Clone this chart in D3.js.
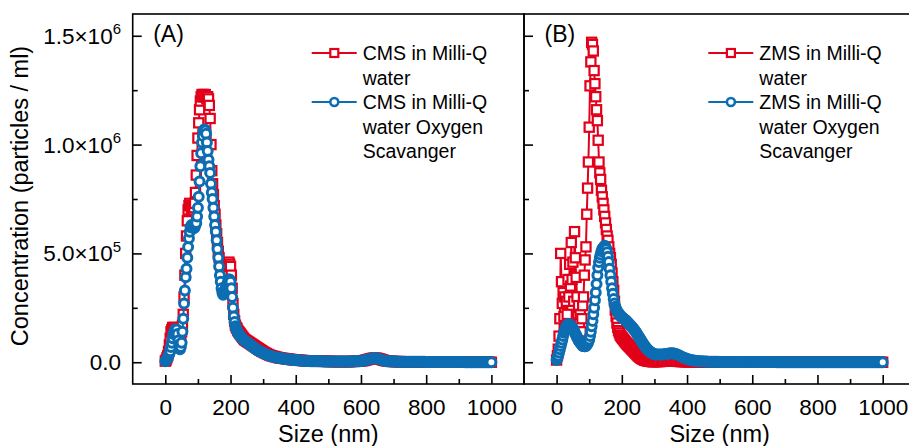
<!DOCTYPE html>
<html>
<head>
<meta charset="utf-8">
<script src="https://cdn.jsdelivr.net/npm/d3@7"></script>
<style>
  html, body { margin: 0; padding: 0; background: #fff; }
  svg { display: block; font-family: "Liberation Sans", Arial, Helvetica, sans-serif; }
</style>
</head>
<body>
<svg id="chart" width="909" height="446"></svg>
<script>
// Particle size bins (nm): 2.5 nm steps up to 300 nm, 5 nm steps from 300 to 1000 nm
const sizes = [...d3.range(0, 300, 2.5), ...d3.range(300, 1000.001, 5)];

// Concentrations, in units of 1e4 particles / ml
const cmsWater = [
  0.5, 1, 2, 3, 5, 8, 11, 14, 15, 16,
  15, 16, 15, 14, 15, 13, 11, 12, 10, 12,
  14, 17, 22, 30, 40, 50, 58, 65, 70, 72,
  73, 72, 71, 70, 70, 71, 73, 78, 86, 95,
  103, 110, 116, 120, 122, 123, 122, 123, 122, 123,
  122, 121, 122, 121, 118, 112, 100, 88, 82, 77,
  72, 68, 63, 59, 55, 51, 48, 45, 42, 40,
  38, 37, 37, 38, 40, 42, 44, 45, 46, 45,
  44, 40, 34, 27, 22, 19, 17, 16, 15.5, 14.5,
  14, 13.5, 13, 12.5, 12, 11.5, 11, 10.5, 10.2, 10,
  9.7, 9.5, 9.2, 9, 8.7, 8.5, 8.2, 8, 7.7, 7.5,
  7.2, 7, 6.7, 6.5, 6.2, 6, 5.7, 5.5, 5.2, 5,
  4.8, 4.4, 4.0, 3.6, 3.3, 3.0, 2.8, 2.6, 2.4, 2.2,
  2.0, 1.9, 1.8, 1.7, 1.6, 1.5, 1.4, 1.3, 1.2, 1.1,
  1.0, 1.0, 0.9, 0.9, 0.8, 0.8, 0.7, 0.7, 0.7, 0.6,
  0.6, 0.6, 0.5, 0.5, 0.5, 0.5, 0.4, 0.4, 0.4, 0.4,
  0.4, 0.4, 0.3, 0.3, 0.3, 0.3, 0.3, 0.3, 0.3, 0.3,
  0.3, 0.3, 0.3, 0.3, 0.3, 0.4, 0.4, 0.4, 0.5, 0.5,
  0.6, 0.7, 0.8, 1.0, 1.2, 1.4, 1.6, 1.8, 1.9, 1.9,
  1.8, 1.6, 1.4, 1.1, 0.9, 0.7, 0.6, 0.5, 0.4, 0.4,
  0.3, 0.3, 0.3, 0.3, 0.3, 0.2, 0.2, 0.2, 0.2, 0.2,
  0.2, 0.2, 0.2, 0.2, 0.2, 0.2, 0.2, 0.2, 0.2, 0.2,
  0.2, 0.2, 0.1, 0.1, 0.1, 0.1, 0.1, 0.1, 0.1, 0.1,
  0.1, 0.1, 0.1, 0.1, 0.1, 0.1, 0.1, 0.1, 0.1, 0.1,
  0.1, 0.1, 0.1, 0.1, 0.1, 0.1, 0, 0, 0, 0,
  0, 0, 0, 0, 0, 0, 0, 0, 0, 0,
  0
];

const cmsScavenger = [
  0.5, 1, 1.5, 2, 3, 4, 5, 7, 9, 11,
  13, 14, 15, 14, 15, 13, 10, 8, 6, 7,
  9, 14, 20, 27, 33, 39, 43, 48, 53, 57,
  60, 62, 63, 62.5, 62, 61.5, 62, 63, 64, 67,
  71, 76, 83, 90, 96, 101, 104, 106.5, 107, 106.5,
  105, 101, 97, 93, 90, 87, 82, 78, 75, 71,
  67, 63, 60, 56, 52, 48, 44, 40, 37, 34,
  32, 31, 32, 33, 34, 35, 36, 37, 38, 38,
  37, 34, 30, 25, 21, 18.5, 16.5, 15.5, 14.5, 13.5,
  13, 12.5, 12, 11.5, 11, 10.7, 10.4, 10.1, 9.8, 9.5,
  9.2, 9, 8.7, 8.4, 8.1, 7.8, 7.5, 7.2, 6.9, 6.7,
  6.4, 6.1, 5.8, 5.6, 5.4, 5.2, 5, 4.8, 4.6, 4.4,
  4.2, 3.9, 3.6, 3.3, 3.0, 2.8, 2.6, 2.4, 2.2, 2.0,
  1.9, 1.8, 1.7, 1.6, 1.5, 1.4, 1.3, 1.2, 1.1, 1.0,
  0.9, 0.9, 0.8, 0.8, 0.7, 0.7, 0.6, 0.6, 0.6, 0.5,
  0.5, 0.5, 0.5, 0.4, 0.4, 0.4, 0.4, 0.3, 0.3, 0.3,
  0.3, 0.3, 0.3, 0.3, 0.3, 0.3, 0.3, 0.3, 0.3, 0.3,
  0.3, 0.3, 0.3, 0.3, 0.3, 0.3, 0.4, 0.4, 0.4, 0.5,
  0.6, 0.7, 0.8, 1.0, 1.2, 1.4, 1.6, 1.7, 1.8, 1.8,
  1.7, 1.5, 1.3, 1.0, 0.8, 0.6, 0.5, 0.4, 0.4, 0.3,
  0.3, 0.3, 0.3, 0.2, 0.2, 0.2, 0.2, 0.2, 0.2, 0.2,
  0.2, 0.2, 0.2, 0.2, 0.2, 0.2, 0.2, 0.2, 0.2, 0.2,
  0.1, 0.1, 0.1, 0.1, 0.1, 0.1, 0.1, 0.1, 0.1, 0.1,
  0.1, 0.1, 0.1, 0.1, 0.1, 0.1, 0.1, 0.1, 0.1, 0.1,
  0.1, 0.1, 0.1, 0.1, 0, 0, 0, 0, 0, 0,
  0, 0, 0, 0, 0, 0, 0, 0, 0, 0,
  0
];

const zmsWater = [
  1, 3, 6, 12, 20, 50, 37, 27, 32, 21,
  30, 16, 28, 22, 38, 30, 45, 35, 55, 38,
  46, 28, 60, 48, 39, 30, 21, 26, 18, 22,
  14, 20, 26, 30, 40, 47, 53, 68, 80, 92,
  108, 127, 138, 147, 146, 143, 134, 128, 122, 116,
  111, 102, 92, 87, 84, 79, 76, 73, 70, 67,
  64, 61, 58, 56, 53, 50, 48, 45, 41, 37,
  33, 28, 24, 21, 18, 16, 14.5, 13.5, 12.5, 12,
  11.5, 11, 10.5, 10, 9.5, 9, 8.6, 8.2, 7.8, 7.4,
  7, 6.6, 6.2, 5.8, 5.4, 5, 4.6, 4.2, 3.8, 3.4,
  3, 2.7, 2.4, 2.1, 1.8, 1.6, 1.4, 1.2, 1, 0.9,
  0.8, 0.7, 0.6, 0.5, 0.5, 0.4, 0.4, 0.3, 0.3, 0.3,
  0.3, 0.3, 0.3, 0.3, 0.4, 0.4, 0.5, 0.5, 0.6, 0.6,
  0.6, 0.6, 0.5, 0.5, 0.4, 0.4, 0.3, 0.3, 0.3, 0.2,
  0.2, 0.2, 0.2, 0.2, 0.2, 0.2, 0.2, 0.2, 0.2, 0.2,
  0.1, 0.1, 0.1, 0.1, 0.1, 0.1, 0.1, 0.1, 0.1, 0.1,
  0.1, 0.1, 0.1, 0.1, 0.1, 0.1, 0.1, 0.1, 0.1, 0.1,
  0.1, 0.1, 0.1, 0.1, 0.1, 0.1, 0.1, 0.1, 0.1, 0.1,
  0, 0, 0, 0, 0, 0, 0, 0, 0, 0,
  0, 0, 0, 0, 0, 0, 0, 0, 0, 0,
  0, 0, 0, 0, 0, 0, 0, 0, 0, 0,
  0, 0, 0, 0, 0, 0, 0, 0, 0, 0,
  0, 0, 0, 0, 0, 0, 0, 0, 0, 0,
  0, 0, 0, 0, 0, 0, 0, 0, 0, 0,
  0, 0, 0, 0, 0, 0, 0, 0, 0, 0,
  0, 0, 0, 0, 0, 0, 0, 0, 0, 0,
  0
];

const zmsScavenger = [
  1, 2, 3, 4.5, 6, 7.5, 9, 10.5, 12, 13.5,
  14.5, 15.5, 16.5, 17, 17.5, 17.5, 17.5, 17, 16.5, 16,
  15.5, 15, 14, 13, 12.5, 11.5, 11, 10, 9.5, 9,
  8.5, 8, 7.5, 7.5, 7.3, 7.3, 7.5, 8, 8.5, 9.5,
  10.5, 12, 14, 16.5, 19, 22, 25, 28.5, 32, 36,
  40, 43.5, 46, 48, 49.5, 51, 52, 52.5, 53, 53.5,
  53, 52, 50.5, 48.5, 46, 43, 40, 37, 34, 31.5,
  29, 27, 25.5, 24.5, 23.5, 23, 22.5, 22, 21.5, 21,
  20.7, 20.4, 20.1, 19.8, 19.5, 19.2, 18.8, 18.4, 18, 17.6,
  17.2, 16.8, 16.4, 16, 15.5, 15, 14.5, 14, 13.4, 12.8,
  12.2, 11.6, 11, 10.4, 9.8, 9.2, 8.6, 8, 7.5, 7,
  6.5, 6.1, 5.7, 5.3, 5, 4.7, 4.4, 4.2, 4, 3.8,
  3.7, 3.6, 3.5, 3.5, 3.5, 3.6, 3.7, 3.8, 3.9, 4.0,
  4.1, 4.1, 4.0, 3.8, 3.5, 3.2, 2.8, 2.4, 2.1, 1.8,
  1.5, 1.3, 1.1, 0.9, 0.8, 0.7, 0.6, 0.5, 0.4, 0.4,
  0.3, 0.3, 0.3, 0.2, 0.2, 0.2, 0.2, 0.2, 0.2, 0.2,
  0.1, 0.1, 0.1, 0.1, 0.1, 0.1, 0.1, 0.1, 0.1, 0.1,
  0.1, 0.1, 0.1, 0.1, 0.1, 0.1, 0.1, 0.1, 0.1, 0.1,
  0.1, 0.1, 0.1, 0.1, 0.1, 0.1, 0.1, 0.1, 0.1, 0.1,
  0.1, 0.1, 0.1, 0.1, 0.1, 0, 0, 0, 0, 0,
  0, 0, 0, 0, 0, 0, 0, 0, 0, 0,
  0, 0, 0, 0, 0, 0, 0, 0, 0, 0,
  0, 0, 0, 0, 0, 0, 0, 0, 0, 0,
  0, 0, 0, 0, 0, 0, 0, 0, 0, 0,
  0, 0, 0, 0, 0, 0, 0, 0, 0, 0,
  0, 0, 0, 0, 0, 0, 0, 0, 0, 0,
  0
];
const UNIT = 1e4;

// Axis ticks
const xMajorTicks = [0, 200, 400, 600, 800, 1000];
const xMinorTicks = [100, 300, 500, 700, 900];
const yMajorTicks = [0, 5e5, 1e6, 1.5e6];
const yMinorTicks = [2.5e5, 7.5e5, 1.25e6];

const RED = "#e2001a";
const BLUE = "#0d6db2";

const panels = [
  {
    tag: "(A)", left: 132.7, right: 524, legendX: 311.7,
    series: [
      { lines: ["CMS in Milli-Q", "water"], values: cmsWater, color: RED, symbol: "square" },
      { lines: ["CMS in Milli-Q", "water Oxygen", "Scavanger"], values: cmsScavenger, color: BLUE, symbol: "circle" }
    ]
  },
  {
    tag: "(B)", left: 524, right: 915.3, legendX: 708.3,
    series: [
      { lines: ["ZMS in Milli-Q", "water"], values: zmsWater, color: RED, symbol: "square" },
      { lines: ["ZMS in Milli-Q", "water Oxygen", "Scavanger"], values: zmsScavenger, color: BLUE, symbol: "circle" }
    ]
  }
];

const svg = d3.select("#chart");
const TOP = 14, BOTTOM = 384;
const FRAME_W = 1.6;

const y = d3.scaleLinear().domain([-1e5, 1.6e6]).range([BOTTOM, TOP]);

function drawSymbol(g, kind, color, cx, cy, small) {
  if (kind === "square") {
    const h = small ? 4 : 4.6;
    g.append("rect")
      .attr("x", cx - h).attr("y", cy - h)
      .attr("width", 2 * h).attr("height", 2 * h)
      .attr("fill", "#fff").attr("stroke", color).attr("stroke-width", 2.2);
  } else {
    g.append("circle")
      .attr("cx", cx).attr("cy", cy).attr("r", small ? 4 : 4.5)
      .attr("fill", "#fff").attr("stroke", color).attr("stroke-width", small ? 2.6 : 3);
  }
}

function styleAxis(g) {
  g.select(".domain").remove();
  g.attr("font-family", null).attr("font-size", null);
  g.selectAll(".tick line").attr("stroke", "#000").attr("stroke-width", FRAME_W);
}

panels.forEach((p, pi) => {
  const x = d3.scaleLinear().domain([-100, 1100]).range([p.left, p.right]);
  const g = svg.append("g");

  // clip region for the data marks
  const clipId = "clip" + pi;
  svg.append("clipPath").attr("id", clipId)
    .append("rect")
    .attr("x", p.left).attr("y", TOP)
    .attr("width", p.right - p.left).attr("height", BOTTOM - TOP);

  const marks = g.append("g").attr("clip-path", `url(#${clipId})`);
  const line = d3.line()
    .x(d => x(d[0]))
    .y(d => y(d[1] * UNIT));

  p.series.forEach(s => {
    const pts = sizes.map((sz, i) => [sz, s.values[i]]);
    marks.append("path")
      .datum(pts)
      .attr("d", line)
      .attr("fill", "none")
      .attr("stroke", s.color)
      .attr("stroke-width", 2)
      .attr("stroke-linejoin", "round");
    const sym = marks.append("g");
    pts.forEach(d => drawSymbol(sym, s.symbol, s.color, x(d[0]), y(d[1] * UNIT), false));
  });

  // x axis ticks (inward) and labels
  const xMajor = g.append("g")
    .attr("transform", `translate(0,${BOTTOM})`)
    .call(d3.axisBottom(x).tickValues(xMajorTicks).tickSize(-9).tickPadding(15).tickFormat(d3.format("d")));
  styleAxis(xMajor);
  xMajor.selectAll(".tick text").attr("font-size", 22.5).attr("fill", "#000");

  const xMinor = g.append("g")
    .attr("transform", `translate(0,${BOTTOM})`)
    .call(d3.axisBottom(x).tickValues(xMinorTicks).tickSize(-5).tickFormat(""));
  styleAxis(xMinor);

  // y axis ticks (inward)
  const yMajor = g.append("g")
    .attr("transform", `translate(${p.left},0)`)
    .call(d3.axisLeft(y).tickValues(yMajorTicks).tickSize(-9).tickFormat(""));
  styleAxis(yMajor);
  const yMinor = g.append("g")
    .attr("transform", `translate(${p.left},0)`)
    .call(d3.axisLeft(y).tickValues(yMinorTicks).tickSize(-5).tickFormat(""));
  styleAxis(yMinor);

  // frame
  g.append("rect")
    .attr("x", p.left).attr("y", TOP)
    .attr("width", p.right - p.left).attr("height", BOTTOM - TOP)
    .attr("fill", "none").attr("stroke", "#000").attr("stroke-width", FRAME_W);

  // x axis title
  g.append("text")
    .attr("x", (p.left + p.right) / 2).attr("y", 441.5)
    .attr("text-anchor", "middle").attr("font-size", 23.5)
    .text("Size (nm)");

  // panel tag
  g.append("text")
    .attr("x", p.left + 20.5).attr("y", 41.7)
    .attr("font-size", 23)
    .text(p.tag);

  // legend
  const baselines = [60, 84.5, 109, 133.5, 158];
  let row = 0;
  p.series.forEach(s => {
    const cy = baselines[row] - 7;
    g.append("line")
      .attr("x1", p.legendX).attr("x2", p.legendX + 45)
      .attr("y1", cy).attr("y2", cy)
      .attr("stroke", s.color).attr("stroke-width", 2);
    drawSymbol(g, s.symbol, s.color, p.legendX + 22.6, cy, true);
    s.lines.forEach(t => {
      g.append("text")
        .attr("x", p.legendX + 51).attr("y", baselines[row])
        .attr("font-size", 19.5)
        .text(t);
      row++;
    });
  });

  // y tick labels only on the left panel
  if (pi === 0) {
    const lab = g.append("g");
    yMajorTicks.forEach(v => {
      const t = lab.append("text")
        .attr("x", 121).attr("y", y(v) + 8)
        .attr("text-anchor", "end").attr("font-size", 22.5);
      if (v === 0) {
        t.text("0.0");
      } else {
        const e = Math.floor(Math.log10(v));
        const m = (v / Math.pow(10, e)).toFixed(1);
        t.append("tspan").text(m + "×10");
        t.append("tspan").attr("font-size", 15).attr("dy", -9.5).text(String(e));
      }
    });
  }
});

// y axis title
svg.append("text")
  .attr("transform", "translate(28,196) rotate(-90)")
  .attr("text-anchor", "middle").attr("font-size", 23.5)
  .text("Concentration (particles / ml)");
</script>
</body>
</html>
